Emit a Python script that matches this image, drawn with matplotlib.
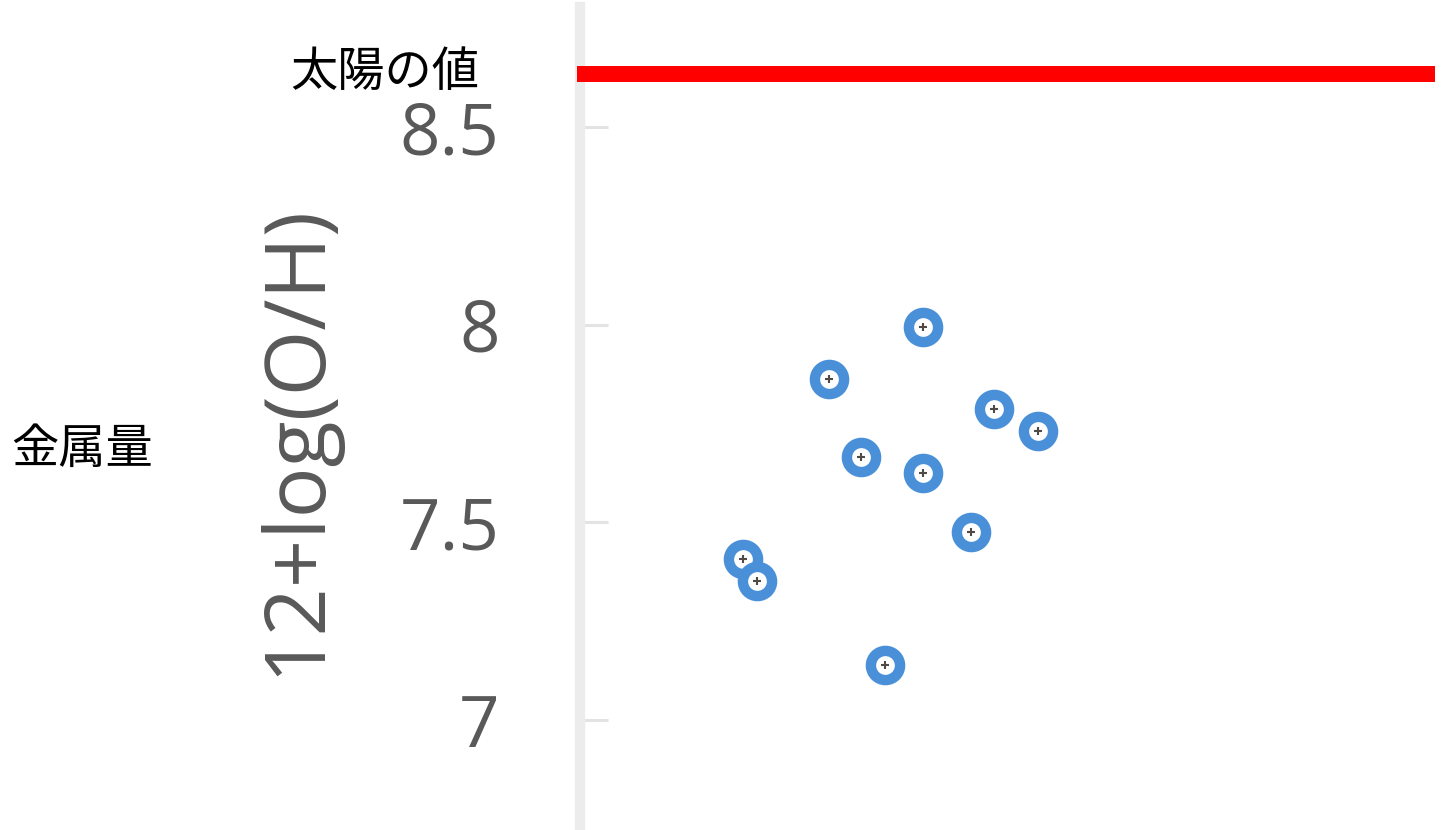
import matplotlib
matplotlib.use("Agg")
import matplotlib.pyplot as plt

# Oxygen abundance of the sample galaxies
x_vals = [3.97, 2.88, 4.79, 5.29, 3.25, 3.97, 4.52, 1.88, 2.05, 3.53]
oh_vals = [7.994, 7.862, 7.787, 7.731, 7.665, 7.625, 7.475, 7.407, 7.351, 7.139]
solar_oh = 8.635
y_ticks = [7, 7.5, 8, 8.5]
y_ticklabels = ["7", "7.5", "8", "8.5"]

W, H = 1445, 830
fig = plt.figure(figsize=(W / 100, H / 100), dpi=100)
ax = fig.add_axes([580 / W, 0, 1 - 580 / W, 1 - 7 / H])

ax.set_xlim(0, 10)
ax.set_ylim(6.721, 8.804)

# solar reference line
ax.axhline(solar_oh, xmin=-0.003, xmax=0.988, color="#ff0000", lw=11.5,
           solid_capstyle="butt", zorder=5, clip_on=False)

# data points: blue ring with a small dark cross in the middle
ax.plot(x_vals, oh_vals, ls="none", marker="o", ms=21, mfc="white",
        mec="#4a90d9", mew=7.5, zorder=3)
ax.plot(x_vals, oh_vals, ls="none", marker="+", ms=6, mew=1.5,
        color="#4f4a45", zorder=4)

for s in ["top", "right", "bottom"]:
    ax.spines[s].set_visible(False)
ax.spines["left"].set_color("#ececec")
ax.spines["left"].set_linewidth(7.5)

ax.set_xticks([])
ax.set_yticks(y_ticks)
ax.set_yticklabels(y_ticklabels, fontfamily="Open Sans", fontsize=51, color="#595959")
ax.tick_params(axis="y", direction="in", length=20, width=2.2, color="#e3e3e3", pad=58)

ax.set_ylabel("12+log(O/H)", fontfamily="Open Sans", fontsize=61, color="#595959")
ax.yaxis.set_label_coords(-0.279, 0.474)

jp = ["Noto Sans CJK JP", "DejaVu Sans"]
fig.text(385 / W, 1 - 73 / H, "太陽の値", family=jp, fontsize=34, color="black",
         ha="center", va="center")
fig.text(82 / W, 1 - 450 / H, "金属量", family=jp, fontsize=34, color="black",
         ha="center", va="center")

fig.savefig("out.png", dpi=100)
